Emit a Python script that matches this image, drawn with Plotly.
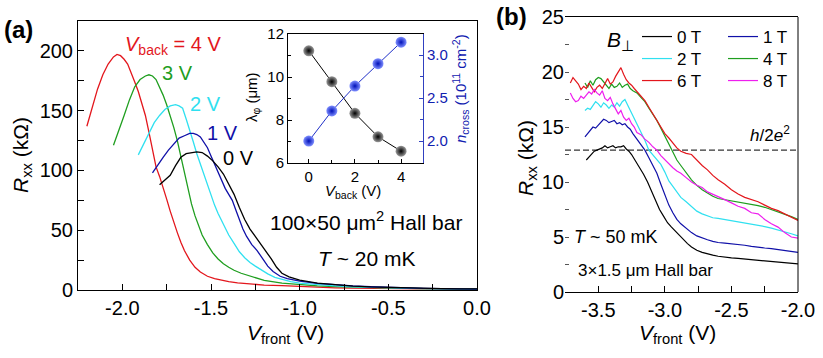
import plotly.graph_objects as go

W, H = 823, 358
FONT = "Liberation Sans, Arial, sans-serif"

# ---------------- Panel (a): R_xx vs V_front for several V_back ----------------
va_4 = [-2.20, -2.17, -2.14, -2.11, -2.08, -2.05, -2.03, -2.01, -1.99, -1.97, -1.95, -1.93, -1.91, -1.89,
        -1.87, -1.85, -1.83, -1.81, -1.79, -1.77, -1.75, -1.73, -1.71, -1.69, -1.67, -1.65, -1.62, -1.59,
        -1.56, -1.52, -1.48, -1.44, -1.40, -1.35, -1.30, -1.25, -1.20, -1.10, -1.00, -0.90, -0.80, -0.70,
        -0.60, -0.50, -0.40, -0.30, -0.20, -0.10, 0.00]
ra_4 = [137, 153, 168, 180, 189, 195, 197, 196, 193, 189, 182, 174, 166, 157,
        146, 132, 116, 103, 95, 86, 76, 66, 56, 48, 40, 33, 25, 19,
        15, 11.5, 9.5, 8, 7, 6, 5.2, 4.6, 4.1, 3.6, 2.8, 2.2, 1.8, 1.5,
        1.3, 1.1, 0.9, 0.8, 0.7, 0.6, 0.5]

va_3 = [-2.05, -2.02, -1.99, -1.96, -1.93, -1.90, -1.87, -1.85, -1.83, -1.81, -1.79, -1.77, -1.75, -1.73,
        -1.71, -1.69, -1.67, -1.65, -1.63, -1.61, -1.59, -1.57, -1.55, -1.52, -1.49, -1.46, -1.43, -1.40,
        -1.37, -1.33, -1.29, -1.25, -1.20, -1.10, -1.00, -0.90, -0.80, -0.70, -0.60, -0.50, -0.40, -0.30,
        -0.20, -0.10, 0.00]
ra_3 = [121, 133, 146, 159, 170, 176, 179, 180, 179, 176, 170, 163, 155, 146,
        136, 125, 112, 99, 85, 72, 62, 54, 46, 38, 31, 26, 22, 19,
        16.5, 14, 12, 10.5, 8, 5.8, 4.4, 3.5, 2.8, 2.3, 1.9, 1.6, 1.3, 1.1,
        0.95, 0.8, 0.7]

va_2 = [-1.91, -1.88, -1.85, -1.82, -1.79, -1.76, -1.73, -1.70, -1.68, -1.66, -1.64, -1.62, -1.60, -1.58,
        -1.56, -1.54, -1.52, -1.50, -1.48, -1.46, -1.44, -1.42, -1.40, -1.37, -1.34, -1.31, -1.28, -1.25,
        -1.22, -1.18, -1.14, -1.10, -1.05, -1.00, -0.90, -0.80, -0.70, -0.60, -0.50, -0.40, -0.30, -0.20,
        -0.10, 0.00]
ra_2 = [113, 122, 132, 140, 146, 151, 154, 155, 154, 152, 143, 134, 124, 114,
        105, 96, 87, 79, 71, 64, 58, 52, 46, 39, 32, 27, 23, 20,
        17, 13.5, 10.5, 8.8, 7, 5.8, 4.3, 3.4, 2.7, 2.2, 1.8, 1.5, 1.2, 1.0,
        0.85, 0.7]

va_1 = [-1.83, -1.80, -1.77, -1.74, -1.71, -1.68, -1.65, -1.62, -1.60, -1.58, -1.56, -1.54, -1.52, -1.50,
        -1.48, -1.46, -1.44, -1.42, -1.40, -1.38, -1.36, -1.34, -1.32, -1.30, -1.27, -1.24, -1.21, -1.18,
        -1.15, -1.11, -1.07, -1.03, -1.00, -0.90, -0.80, -0.70, -0.60, -0.50, -0.40, -0.30, -0.20, -0.10,
        0.00]
ra_1 = [98, 105, 111, 117, 122, 127, 129, 131, 131, 130, 128, 124, 119, 112,
        105, 98, 91, 85, 80, 75, 67, 59, 51, 45, 38, 33, 26, 20,
        15.5, 11.5, 9.5, 8.2, 7.5, 5.6, 4.4, 3.4, 2.7, 2.1, 1.7, 1.4, 1.1, 0.9,
        0.8]

va_0 = [-1.79, -1.76, -1.73, -1.70, -1.67, -1.64, -1.61, -1.58, -1.55, -1.52, -1.49, -1.46, -1.43, -1.40,
        -1.37, -1.34, -1.31, -1.28, -1.25, -1.22, -1.19, -1.16, -1.13, -1.10, -1.06, -1.03, -1.00, -0.90,
        -0.80, -0.70, -0.60, -0.50, -0.40, -0.30, -0.20, -0.10, 0.00]
ra_0 = [88, 92, 96, 104, 111, 114, 115, 115.5, 115, 112, 108, 103, 97, 89,
        80, 69, 59, 51, 45, 39, 33, 26, 19, 14, 11, 9.3, 8.2, 5.8,
        4.3, 3.3, 2.6, 2.1, 1.7, 1.4, 1.2, 1.0, 0.9]

a_xticks = [-2.0, -1.5, -1.0, -0.5, 0.0]
a_xticklabels = ["-2.0", "-1.5", "-1.0", "-0.5", "0.0"]

# ---------------- Inset: lambda_phi and n_cross vs V_back ----------------
vback = [0, 1, 2, 3, 4]
lam_phi = [11.22, 9.78, 8.31, 7.22, 6.55]
n_cross = [2.00, 2.35, 2.64, 2.90, 3.15]

# ---------------- Panel (b): R_xx vs V_front for several B ----------------
vb_0 = [-3.59, -3.57, -3.55, -3.53, -3.51, -3.49, -3.47, -3.45, -3.43, -3.41, -3.39, -3.37, -3.35, -3.33,
        -3.31, -3.29, -3.27, -3.25, -3.22, -3.19, -3.16, -3.13, -3.10, -3.07, -3.04, -3.01, -2.98, -2.95,
        -2.92, -2.89, -2.86, -2.83, -2.80, -2.76, -2.72, -2.68, -2.64, -2.60, -2.55, -2.50, -2.45, -2.40,
        -2.35, -2.30, -2.25, -2.20, -2.15, -2.10, -2.05, -2.00]
rb_0 = [12.0, 12.3, 12.5, 12.8, 12.9, 13.0, 13.1, 13.3, 13.1, 13.2, 13.3, 13.1, 13.2, 13.2,
        13.3, 13.0, 12.8, 12.5, 11.9, 11.4, 10.7, 10.0, 9.2, 8.4, 7.5, 6.9, 6.3, 5.9,
        5.5, 5.1, 4.7, 4.4, 4.1, 3.8, 3.6, 3.45, 3.35, 3.25, 3.15, 3.1, 3.05, 3.0,
        2.95, 2.9, 2.85, 2.8, 2.75, 2.7, 2.6, 2.55]

vb_1 = [-3.60, -3.58, -3.56, -3.54, -3.52, -3.50, -3.48, -3.46, -3.44, -3.42, -3.40, -3.38, -3.36, -3.34,
        -3.32, -3.30, -3.28, -3.26, -3.24, -3.21, -3.18, -3.15, -3.12, -3.09, -3.06, -3.03, -3.00, -2.97,
        -2.94, -2.91, -2.88, -2.84, -2.80, -2.76, -2.72, -2.68, -2.64, -2.60, -2.55, -2.50, -2.45, -2.40,
        -2.35, -2.30, -2.25, -2.20, -2.15, -2.10, -2.05, -2.00]
rb_1 = [14.1, 14.4, 14.6, 15.0, 14.9, 15.2, 15.5, 15.7, 15.6, 15.4, 15.5, 15.6, 15.3, 15.4,
        15.2, 15.3, 15.0, 14.8, 14.4, 13.9, 13.3, 12.9, 12.2, 11.5, 10.8, 9.8, 8.8, 7.9,
        7.2, 6.6, 6.2, 5.8, 5.4, 5.1, 4.9, 4.75, 4.6, 4.5, 4.45, 4.4, 4.3, 4.25,
        4.15, 4.05, 4.0, 3.95, 3.85, 3.75, 3.7, 3.6]

vb_2 = vb_1
rb_2 = [16.5, 16.7, 16.6, 17.0, 17.3, 17.1, 16.8, 17.2, 17.0, 16.7, 17.0, 16.8, 17.2, 16.9,
        17.3, 17.5, 17.0, 16.5, 16.0, 15.4, 14.6, 13.8, 12.9, 12.5, 12.0, 11.6, 10.9, 10.1,
        9.6, 9.1, 8.6, 8.2, 7.8, 7.35, 7.1, 6.9, 6.75, 6.7, 6.6, 6.5, 6.4, 6.3,
        6.2, 6.05, 5.95, 5.8, 5.65, 5.5, 5.3, 5.1]

vb_4 = vb_1
rb_4 = [19.0, 18.6, 19.2, 18.8, 19.3, 19.5, 19.4, 19.1, 18.9, 18.5, 18.9, 18.6, 18.7, 19.0,
        18.6, 18.8, 18.9, 18.5, 18.3, 18.1, 17.7, 17.3, 16.7, 16.2, 15.6, 14.9, 14.2, 13.5,
        12.7, 12.0, 11.5, 10.8, 10.2, 9.7, 9.3, 9.0, 8.7, 8.5, 8.4, 8.3, 8.2, 8.1,
        7.95, 7.85, 7.7, 7.5, 7.3, 7.1, 6.85, 6.6]

vb_6 = [-3.71, -3.69, -3.67, -3.65, -3.63, -3.61, -3.59, -3.57, -3.55, -3.53, -3.51, -3.49, -3.47, -3.45,
        -3.43, -3.41, -3.39, -3.37, -3.35, -3.33, -3.31, -3.29, -3.27, -3.25, -3.23, -3.21, -3.18, -3.15,
        -3.12, -3.09, -3.06, -3.03, -3.00, -2.97, -2.94, -2.91, -2.88, -2.84, -2.80, -2.76, -2.72, -2.68,
        -2.64, -2.60, -2.55, -2.50, -2.45, -2.40, -2.35, -2.30, -2.25, -2.20, -2.15, -2.10, -2.05, -2.00]
rb_6 = [19.0, 19.5, 19.2, 18.9, 18.4, 18.7, 18.5, 19.0, 18.6, 18.2, 18.6, 18.8, 18.5, 19.0,
        19.4, 18.9, 19.1, 19.6, 20.0, 20.4, 19.8, 19.3, 19.0, 18.8, 18.5, 18.2, 17.8, 17.4,
        16.8, 16.2, 15.6, 15.0, 14.4, 14.0, 13.5, 13.1, 12.8, 12.6, 12.5, 12.0, 11.5, 11.1,
        10.6, 10.2, 9.8, 9.3, 8.9, 8.6, 8.4, 8.2, 7.9, 7.6, 7.4, 7.1, 6.8, 6.5]

vb_8 = vb_6
rb_8 = [18.1, 17.6, 17.3, 17.4, 17.8, 17.6, 17.9, 18.2, 18.0, 18.4, 18.1, 17.9, 18.3, 17.6,
        17.4, 17.7, 17.1, 16.6, 16.2, 16.5, 15.9, 15.6, 15.8, 15.3, 15.0, 14.5, 14.3, 13.9,
        13.6, 13.2, 12.9, 12.4, 12.0, 11.6, 11.3, 11.0, 10.8, 10.4, 10.0, 9.7, 9.5, 9.1,
        8.9, 8.7, 8.4, 8.1, 7.8, 7.6, 7.2, 7.1, 6.6, 6.2, 5.9, 5.4, 5.0, 4.9]

h_2e2 = 12.9  # kOhm
b_xticks = [-3.5, -3.0, -2.5, -2.0]
b_xticklabels = ["-3.5", "-3.0", "-2.5", "-2.0"]

RED, GREEN, CYAN, BLUE, BLACK, MAG = "#e3161c", "#1f9e1f", "#2fe0f0", "#1010a8", "#000000", "#ee1fee"


def X(px):
    return px / W


def Y(py):
    return 1 - py / H


fig = go.Figure()

for v, r, c in [(va_4, ra_4, RED), (va_3, ra_3, GREEN), (va_2, ra_2, CYAN), (va_1, ra_1, BLUE), (va_0, ra_0, BLACK)]:
    fig.add_trace(go.Scatter(x=v, y=r, mode="lines", line=dict(color=c, width=1.3),
                             xaxis="x", yaxis="y", showlegend=False))

# inset
fig.add_trace(go.Scatter(x=vback, y=lam_phi, mode="lines+markers", xaxis="x3", yaxis="y3", showlegend=False,
                         line=dict(color="black", width=1),
                         marker=dict(size=11, color="#9a9a9a", gradient=dict(type="radial", color="#000000"),
                                     line=dict(width=0))))
fig.add_trace(go.Scatter(x=vback, y=n_cross, mode="lines+markers", xaxis="x3", yaxis="y4", showlegend=False,
                         line=dict(color="#2030c8", width=1),
                         marker=dict(size=11, color="#8090ff", gradient=dict(type="radial", color="#0010b8"),
                                     line=dict(width=0))))

# panel (b)
fig.add_trace(go.Scatter(x=[-3.75, -2.0], y=[h_2e2, h_2e2], mode="lines", xaxis="x2", yaxis="y2",
                         showlegend=False, line=dict(color="black", width=1, dash="6px,3px")))
for v, r, c, name, lg in [(vb_0, rb_0, BLACK, "0 T", "legend"), (vb_1, rb_1, BLUE, "1 T", "legend"),
                          (vb_2, rb_2, CYAN, "2 T", "legend2"), (vb_4, rb_4, GREEN, "4 T", "legend2"),
                          (vb_6, rb_6, RED, "6 T", "legend3"), (vb_8, rb_8, MAG, "8 T", "legend3")]:
    fig.add_trace(go.Scatter(x=v, y=r, mode="lines", name=name, line=dict(color=c, width=1.2),
                             xaxis="x2", yaxis="y2", legend=lg))

tickfont = dict(family=FONT, size=20, color="black")
small = dict(family=FONT, size=15, color="black")


def legend_row(ycenter):
    return dict(x=X(637), y=Y(ycenter), xanchor="left", yanchor="middle", orientation="h",
                entrywidth=41, entrywidthmode="pixels", font=dict(family=FONT, size=17),
                bgcolor="rgba(0,0,0,0)", borderwidth=0)


fig.update_layout(
    width=W, height=H, margin=dict(l=0, r=0, t=0, b=0, autoexpand=False),
    paper_bgcolor="white", plot_bgcolor="rgba(0,0,0,0)",
    font=dict(family=FONT, color="black"),
    xaxis=dict(domain=[X(78), X(477)], range=[-2.25, 0], anchor="y", showline=True, linecolor="black",
               linewidth=1, mirror=True, ticks="inside", ticklen=6, tickcolor="black", automargin=False,
               tickvals=a_xticks, ticktext=a_xticklabels, tickfont=tickfont, showgrid=False, zeroline=False,
               minor=dict(ticks="inside", dtick=0.25, ticklen=6, tickcolor="black")),
    yaxis=dict(domain=[Y(290), Y(21)], range=[0, 225], anchor="x", showline=True, linecolor="black",
               linewidth=1, mirror=True, ticks="inside", ticklen=6, tickcolor="black", dtick=50,
               tickfont=tickfont, showgrid=False, zeroline=False, automargin=False,
               minor=dict(ticks="inside", dtick=25, ticklen=6, tickcolor="black")),
    xaxis2=dict(domain=[X(565), X(798)], range=[-3.75, -2.0], anchor="y2", showline=True, linecolor="black",
                linewidth=1, mirror=True, ticks="inside", ticklen=6, tickcolor="black", automargin=False,
                tickvals=b_xticks, ticktext=b_xticklabels, tickfont=tickfont, showgrid=False, zeroline=False,
                minor=dict(ticks="inside", dtick=0.25, ticklen=6, tickcolor="black")),
    yaxis2=dict(domain=[Y(292), Y(17)], range=[0, 25], anchor="x2", showline=False, automargin=False,
                ticks="inside", ticklen=4, tickcolor="#555", dtick=5, tickfont=tickfont,
                showgrid=False, zeroline=False,
                minor=dict(ticks="inside", dtick=2.5, ticklen=4, tickcolor="#555")),
    xaxis3=dict(domain=[X(288), X(423)], range=[-0.9, 4.95], anchor="y3", showline=True, linecolor="black",
                linewidth=1, mirror=True, ticks="inside", ticklen=4, tickcolor="black", dtick=2,
                tickfont=small, showgrid=False, zeroline=False, automargin=False,
                minor=dict(ticks="inside", dtick=1, ticklen=3, tickcolor="black")),
    yaxis3=dict(domain=[Y(163), Y(34)], range=[6, 12], anchor="x3", showline=True, linecolor="black",
                linewidth=1, ticks="inside", ticklen=4, tickcolor="black", dtick=2, tickfont=small,
                showgrid=False, zeroline=False, automargin=False,
                minor=dict(ticks="inside", dtick=1, ticklen=3, tickcolor="black")),
    yaxis4=dict(range=[1.745, 3.245], overlaying="y3", side="right", anchor="x3", showline=True,
                linecolor="#3040c0", linewidth=1, ticks="inside", ticklen=4, tickcolor="#3040c0",
                tickvals=[2.0, 2.5, 3.0], ticktext=["2.0", "2.5", "3.0"], automargin=False,
                tickfont=dict(family=FONT, size=15, color="#1020b0"), showgrid=False, zeroline=False,
                minor=dict(ticks="inside", tickvals=[2.25, 2.75], ticklen=3, tickcolor="#3040c0")),
    legend=legend_row(37),
    legend2=legend_row(59),
    legend3=legend_row(81),
    shapes=[dict(type="line", xref="paper", yref="paper", x0=X(798), x1=X(798), y0=Y(292), y1=Y(17),
                 line=dict(color="black", width=1))],
)


def ann(text, x, y, size, color="black", angle=0, xanchor="center", yanchor="middle"):
    fig.add_annotation(text=text, x=X(x), y=Y(y), xref="paper", yref="paper", showarrow=False,
                       font=dict(family=FONT, size=size, color=color), textangle=angle,
                       xanchor=xanchor, yanchor=yanchor)


ann("<b>(a)</b>", 18, 29, 24)
ann("<b>(b)</b>", 512, 17, 24)
ann("<i>R</i><sub>xx</sub> (kΩ)", 22, 155, 21, angle=-90)
ann("<i>V</i><sub>front</sub> (V)", 285, 334, 21)
ann("<i>R</i><sub>xx</sub> (kΩ)", 527, 158, 21, angle=-90)
ann("<i>V</i><sub>front</sub> (V)", 677, 334, 21)
ann("<i>V</i><sub>back</sub> = 4 V", 123, 45, 20, color=RED, xanchor="left")
ann("3 V", 177, 73, 20, color=GREEN)
ann("2 V", 205, 104, 20, color=CYAN)
ann("1 V", 222, 133, 20, color=BLUE)
ann("0 V", 238, 158, 20, color=BLACK)
ann("100×50 μm<sup>2</sup> Hall bar", 366, 221, 21)
ann("<i>T</i> ~ 20 mK", 366, 258, 21)
ann("<i>V</i><sub>back</sub> (V)", 353, 191, 15)
ann("λ<sub>φ</sub> (μm)", 253, 97, 15, angle=-90)
ann("<i>n</i><sub>cross</sub> (10<sup>11</sup> cm<sup>-2</sup>)", 461, 88, 15, color="#1020b0", angle=-90)
ann("<i>B</i><sub>⊥</sub>", 620, 41, 21)
ann("<i>h</i>/2<i>e</i><sup>2</sup>", 770, 134, 17)
ann("<i>T</i> ~ 50 mK", 616, 237, 18)
ann("3×1.5 μm Hall bar", 645, 270, 17)

fig.write_html("out.html", config={"displayModeBar": False},
               post_script="document.body.style.margin='0px';")
